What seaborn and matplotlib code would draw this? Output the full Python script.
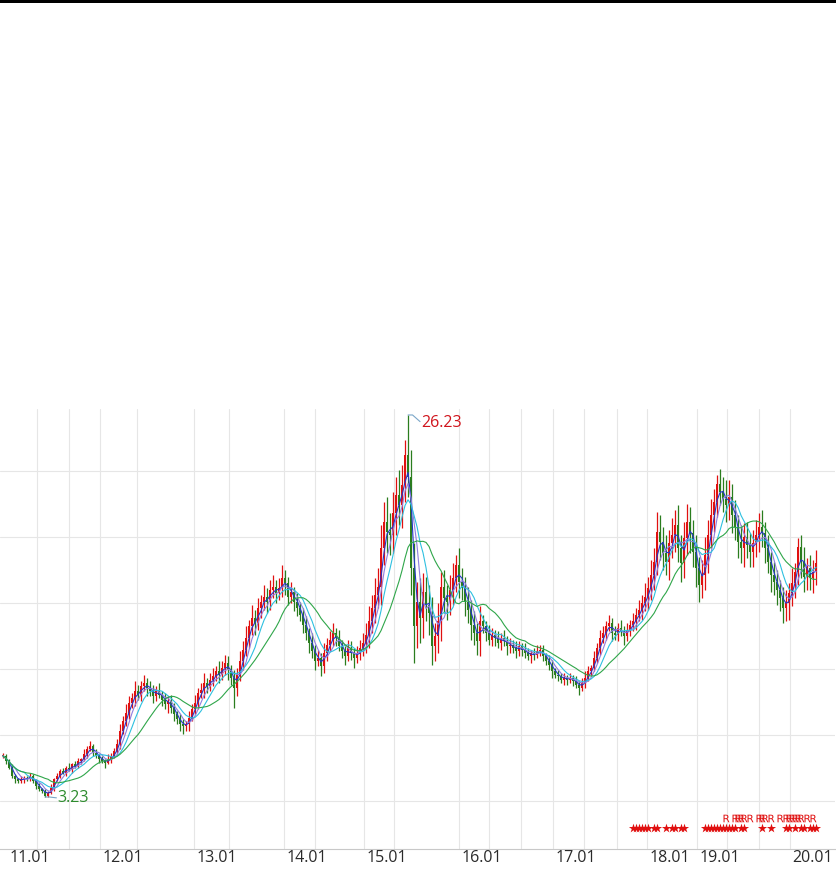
import numpy as np
import pandas as pd
import matplotlib
matplotlib.use('Agg')
import matplotlib.pyplot as plt
import seaborn as sns
from matplotlib.patches import Rectangle
from matplotlib.ticker import MultipleLocator

# closes, one bar every ~3 px of the picture (2011 -> early 2020)
closes = [
    5.7, 5.4, 5.0, 4.5, 4.3, 4.2, 4.3, 4.4, 4.3, 4.5,
    4.2, 3.9, 3.7, 3.6, 3.3, 3.5, 3.8, 4.3, 4.5, 4.8,
    4.7, 5.0, 4.9, 5.2, 5.1, 5.4, 5.5, 5.8, 6.1, 6.3,
    5.9, 5.7, 5.5, 5.4, 5.3, 5.5, 5.7, 6.0, 6.4, 7.2,
    7.8, 8.3, 8.9, 9.2, 9.6, 9.4, 9.9, 10.1, 9.8, 9.6,
    9.3, 9.6, 9.4, 9.1, 8.8, 9.0, 8.6, 8.2, 7.9, 7.6,
    7.5, 7.6, 8.0, 8.5, 8.9, 9.5, 9.7, 10.1, 9.9, 10.3,
    10.5, 10.8, 10.6, 11.0, 11.3, 10.9, 10.4, 9.8, 10.6, 11.4,
    12.1, 12.8, 13.5, 14.0, 13.7, 14.6, 15.0, 15.3, 15.0, 15.7,
    15.9, 15.5, 15.8, 16.4, 16.1, 15.3, 15.6, 15.0, 14.6, 14.2,
    13.6, 13.1, 12.5, 12.0, 11.4, 11.6, 11.1, 11.9, 12.4, 12.7,
    13.1, 12.8, 12.3, 12.0, 11.7, 12.2, 11.9, 11.6, 11.9, 12.2,
    12.5, 13.0, 13.8, 14.6, 15.4, 15.9, 18.2, 19.8, 19.2, 19.0,
    20.3, 21.4, 20.8, 22.0, 23.8, 22.5, 17.0, 13.5, 15.0, 14.0,
    15.6, 14.8, 14.3, 12.3, 12.9, 13.8, 15.9, 15.2, 15.0, 15.7,
    16.4, 17.2, 16.2, 15.8, 15.0, 14.5, 13.6, 13.1, 12.6, 13.8,
    13.5, 13.1, 12.7, 13.0, 12.8, 12.5, 12.8, 12.6, 12.3, 12.4,
    12.2, 12.0, 12.3, 12.1, 11.9, 11.7, 11.9, 11.8, 12.0, 12.1,
    11.7, 11.4, 11.2, 10.8, 10.6, 10.5, 10.3, 10.4, 10.3, 10.4,
    10.2, 10.0, 9.8, 10.1, 10.4, 10.8, 11.0, 11.6, 12.2, 12.8,
    13.1, 13.5, 13.7, 13.1, 13.0, 13.4, 13.2, 12.9, 13.3, 13.6,
    13.8, 14.2, 14.5, 14.9, 15.3, 15.8, 16.6, 17.4, 19.2, 18.6,
    17.9, 17.4, 18.5, 19.0, 19.6, 18.2, 17.3, 18.8, 19.8, 19.1,
    18.0, 17.0, 16.0, 16.6, 17.8, 19.0, 20.2, 21.0, 22.1, 21.6,
    21.2, 20.8, 21.3, 20.2, 19.5, 18.6, 18.2, 18.9, 18.4, 18.0,
    18.5, 19.0, 19.5, 19.1, 18.2, 17.4, 16.6, 16.2, 15.7, 15.2,
    14.6, 14.9, 15.5, 16.1, 16.8, 18.3, 17.4, 16.5, 17.0, 16.4, 16.8, 17.3,
]

# wick above the body / below the body
up_wick = [
    .2, .1, .1, .2, .1, .1, .2, .1, .1, .2,
    .1, .1, .2, .1, .1, .1, .2, .1, .2, .1,
    .2, .1, .3, .1, .2, .2, .1, .3, .2, .3,
    .1, .2, .1, .2, .1, .3, .2, .2, .3, .4,
    .3, .5, .4, .3, .6, .4, .3, .5, .3, .4,
    .4, .3, .5, .2, .4, .3, .4, .3, .2, .3,
    .3, .2, .4, .3, .5, .3, .4, .6, .3, .4,
    .5, .3, .6, .4, .5, .4, .3, .5, .4, .6,
    .5, .7, .4, .8, .5, .6, .4, .7, .5, .6,
    .7, .4, .6, .8, .5, .4, .6, .3, .5, .4,
    .4, .5, .3, .6, .4, .5, .3, .6, .4, .5,
    .6, .3, .5, .4, .3, .5, .4, .3, .4, .5,
    .6, .7, .9, .8, 1.0, 1.1, 1.4, 1.2, 1.5, 1.1,
    1.3, 1.1, 1.5, 1.2, .9, 2.43, 1.6, 1.5, 1.2, 1.4,
    1.1, .9, 1.2, 1.0, .8, 1.1, .9, 1.0, .8, .9,
    .9, .6, 1.0, .8, .7, .9, .6, .8, .6, .9,
    .4, .3, .5, .4, .3, .4, .3, .5, .3, .4,
    .3, .4, .3, .2, .4, .3, .2, .3, .4, .3,
    .3, .2, .4, .3, .2, .3, .2, .3, .2, .3,
    .2, .3, .2, .3, .4, .3, .2, .4, .3, .5,
    .4, .3, .5, .3, .4, .3, .5, .3, .4, .3,
    .5, .4, .6, .5, .8, .7, .9, .8, 1.2, 1.0,
    .9, 1.1, .8, 1.0, .9, 1.2, .8, 1.0, 1.1, .9,
    .8, 1.0, .7, .9, 1.1, .9, 1.0, .8, .5, .9,
    .9, 1.1, 1.0, .8, .9, .7, 1.0, .8, .9, .7,
    .8, .9, .8, 1.0, .7, .8, .6, .8, .7, .6,
    .7, .8, .6, .9, .5, .5, .7, .9, .6, .8, .7, .8,
]
dn_wick = [
    .1, .2, .1, .1, .2, .1, .1, .2, .1, .1,
    .1, .2, .1, .1, .07, .05, .1, .2, .1, .1,
    .1, .2, .1, .2, .1, .1, .2, .1, .2, .1,
    .2, .1, .2, .1, .3, .1, .2, .1, .2, .3,
    .2, .3, .4, .3, .5, .3, .4, .3, .5, .3,
    .4, .3, .2, .4, .3, .5, .3, .4, .3, .4,
    .5, .3, .4, .2, .3, .4, .3, .5, .4, .3,
    .4, .3, .5, .3, .4, .6, .4, 1.2, .5, .4,
    .5, .4, .6, .5, .7, .4, .6, .5, .7, .5,
    .5, .6, .4, .5, .7, .5, .4, .6, .5, .4,
    .5, .4, .6, .4, .5, .3, .6, .4, .5, .4,
    .4, .5, .3, .4, .5, .3, .4, .6, .3, .4,
    .5, .6, .8, .7, .9, .8, 1.1, 1.0, 1.3, 1.2,
    1.1, 1.3, 1.2, 1.4, 1.0, 1.2, 1.6, 2.2, 1.3, 1.5,
    1.2, 1.0, 1.3, 1.1, .9, 1.0, 1.2, .9, 1.1, .8,
    .9, .8, 1.0, .7, .9, .8, .9, .7, .8, .9,
    .4, .5, .3, .4, .5, .3, .4, .3, .5, .4,
    .3, .4, .3, .4, .3, .2, .4, .3, .2, .3,
    .3, .2, .3, .4, .2, .3, .2, .3, .3, .2,
    .3, .2, .4, .2, .3, .2, .3, .2, .3, .4,
    .3, .4, .3, .5, .3, .4, .3, .5, .3, .4,
    .4, .5, .4, .6, .5, .8, .7, .9, .8, 1.1,
    1.0, .8, 1.1, .9, 1.0, .8, 1.1, .9, 1.0, 1.2,
    .9, 1.1, 1.0, .8, .9, 1.1, .8, 1.0, .9, .8,
    .8, 1.0, .9, 1.1, .8, 1.0, .9, 1.1, .8, .9,
    .9, .8, 1.0, .8, .9, .7, 1.0, .8, .9, .8,
    .9, .8, 1.0, .8, .9, .8, 1.0, .9, .8, .7, .9, .8,
]

year_pos = [1.3, 32.3, 63.7, 93.7, 120.3, 152, 183.3, 214.7, 231.3, 262.3]
year_labels = ['11.01', '12.01', '13.01', '14.01', '15.01', '16.01', '17.01', '18.01', '19.01', '20.01']
grid_pos = [11.3, 22, 32.3, 44.7, 63.7, 75.3, 93.7, 104, 120.3, 130.3, 152, 162,
            172.7, 183.3, 193.7, 204.7, 214.7, 231.3, 241.3, 252, 262.3]
price_grid = [2.99, 6.96, 10.94, 14.91, 18.88, 22.86]

star_idx = [210, 211, 212, 213, 214, 215, 217, 218, 221, 223, 224, 226, 227,
            234, 235, 236, 237, 238, 239, 240, 241, 242, 243, 244, 246, 247,
            253, 256, 261, 262, 264, 266, 267, 269, 270, 271]
r_idx = [241, 244, 245, 246, 247, 249, 252, 253, 254, 256, 259,
         261, 262, 263, 264, 265, 266, 268, 270]

ma_windows = [3, 5, 8, 16]
ma_colors = ['#2436c8', '#8f7de0', '#2ec0e0', '#2fa64a']

RED = '#e01010'
GREEN = '#2a7d1e'

sns.set_style('white')
plt.rcParams['font.family'] = ['Open Sans', 'DejaVu Sans']

df = pd.DataFrame({'close': closes})
df['i'] = np.arange(len(df))
df['open'] = df['close'].shift(1).fillna(df['close'].iloc[0])
df['top'] = df[['open', 'close']].max(axis=1)
df['bot'] = df[['open', 'close']].min(axis=1)
df['high'] = df['top'] + np.array(up_wick)
df['low'] = df['bot'] - np.array(dn_wick)
cols = np.where(df['close'] >= df['open'], RED, GREEN)

fig = plt.figure(figsize=(8.37, 8.69), dpi=100)
fig.add_artist(Rectangle((0, 1 - 3 / 869), 1, 3 / 869, transform=fig.transFigure,
                         color='black', lw=0))
ax = fig.add_axes([0, 20 / 869, 835 / 837, 440 / 869])

# grid
for g in grid_pos:
    ax.axvline(g, color='#e6e6e6', lw=0.8, zorder=0)
for g in price_grid:
    ax.axhline(g, color='#e6e6e6', lw=0.8, zorder=0)

# candles
ax.vlines(df['i'], df['low'], df['high'], colors=cols, lw=0.9, zorder=2)
ax.bar(df['i'], (df['top'] - df['bot']).clip(lower=0.08), bottom=df['bot'],
       width=0.85, color=cols, lw=0, zorder=2)

# moving averages
for w, c in zip(ma_windows, ma_colors):
    ma = df['close'].rolling(w, min_periods=1).mean()
    sns.lineplot(x=df['i'], y=ma, color=c, lw=0.8, ax=ax, zorder=3)

# max / min labels
imax = df['high'].idxmax()
vmax = df['high'].max()
ax.plot([imax, imax + 1.5, imax + 4], [vmax, vmax, vmax - 0.4], color='#7aa6c8', lw=0.8)
ax.text(imax + 4.3, vmax - 0.48, f'{vmax:.2f}', color='#d0141c', fontsize=11.5,
        ha='left', va='center')
imin = df['low'].idxmin()
vmin = df['low'].min()
ax.plot([imin, imin + 1.5, imin + 3.8], [vmin, vmin, vmin - 0.05], color='#7aa6c8', lw=0.8)
ax.text(imin + 4.2, vmin - 0.06, f'{vmin:.2f}', color='#2e8b2e', fontsize=11.5,
        ha='left', va='center')

# signal marks
ax.scatter(star_idx, [1.36] * len(star_idx), marker='*', s=48, color='#e01010', lw=0, zorder=4)
ax.scatter(r_idx, [1.97] * len(r_idx), marker=r'$\mathsf{R}$', s=30, color='#e01010',
           lw=0, zorder=4)

ax.set_xlim(-1, 277.3)
ax.set_ylim(0.10, 26.59)
ax.set_xlabel('')
ax.set_ylabel('')
ax.set_yticks([])
for s in ['top', 'left', 'right']:
    ax.spines[s].set_visible(False)
ax.spines['bottom'].set_color('#c8c8c8')
ax.spines['bottom'].set_linewidth(0.8)

ax.set_xticks(year_pos)
ax.set_xticklabels([])
ax.xaxis.set_minor_locator(MultipleLocator(3))
ax.tick_params(axis='x', which='major', length=14, width=0.8, color='#c8c8c8', direction='out')
ax.tick_params(axis='x', which='minor', length=3, width=0.6, color='#c8c8c8', direction='in')
for p, lab in zip(year_pos, year_labels):
    ax.text(p + 0.9, -0.021, lab, transform=ax.get_xaxis_transform(), fontsize=11.5,
            color='#2a2a2a', ha='left', va='center')

fig.savefig('out.png', dpi=100)
